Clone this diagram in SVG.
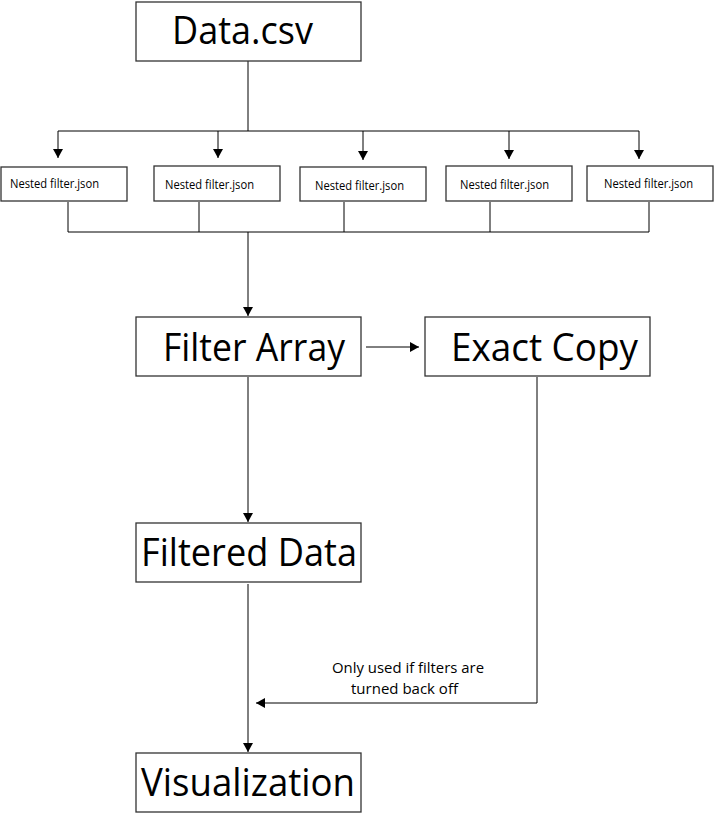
<svg xmlns="http://www.w3.org/2000/svg" width="714" height="814" viewBox="0 0 714 814">
<style>
.box{fill:#fff;stroke:#333;stroke-width:1.3}
.big{font-family:"Open Sans","Noto Sans",sans-serif;font-size:39px;fill:#000}
.small{font-family:"Open Sans","Noto Sans",sans-serif;font-size:12px;fill:#000}
.note{font-family:"Open Sans","Noto Sans",sans-serif;font-size:14px;fill:#000}
.ln{fill:none;stroke:#000;stroke-width:1}
</style>
<defs>
<marker id="ah" markerWidth="10" markerHeight="10" refX="9" refY="5" orient="auto" markerUnits="userSpaceOnUse">
<path d="M0,0 L9,5 L0,10 Z" fill="#000"/>
</marker>
</defs>
<rect width="714" height="814" fill="#fff"/>
<g id="connectors">
<path class="ln" d="M248,61 V131 M58,131 H639"/>
<path class="ln" d="M58,131 V158" marker-end="url(#ah)"/>
<path class="ln" d="M218,131 V158" marker-end="url(#ah)"/>
<path class="ln" d="M363,131 V160" marker-end="url(#ah)"/>
<path class="ln" d="M509,131 V159" marker-end="url(#ah)"/>
<path class="ln" d="M639,131 V159" marker-end="url(#ah)"/>
<path class="ln" d="M68,202 V232 M199,202 V232 M344,202 V232 M490,202 V232 M649,202 V232 M68,232 H649"/>
<path class="ln" d="M248,232 V316" marker-end="url(#ah)"/>
<path class="ln" d="M366,347 H419" stroke="#555" marker-end="url(#ah)"/>
<path class="ln" d="M248,377 V522" marker-end="url(#ah)"/>
<path class="ln" d="M248,584 V752" marker-end="url(#ah)"/>
<path class="ln" d="M537,377 V703 H256" marker-end="url(#ah)"/>
</g>
<g id="data-csv"><rect class="box" x="136" y="2" width="225" height="59"/><text class="big" x="172" y="44" textLength="141" lengthAdjust="spacingAndGlyphs">Data.csv</text></g>
<g id="nested-1"><rect class="box" x="1" y="167" width="126" height="34"/><text class="small" x="10" y="188" textLength="89" lengthAdjust="spacingAndGlyphs">Nested filter.json</text></g>
<g id="nested-2"><rect class="box" x="154" y="166" width="126" height="35"/><text class="small" x="165" y="189" textLength="89" lengthAdjust="spacingAndGlyphs">Nested filter.json</text></g>
<g id="nested-3"><rect class="box" x="300" y="167" width="126" height="34"/><text class="small" x="315" y="190" textLength="89" lengthAdjust="spacingAndGlyphs">Nested filter.json</text></g>
<g id="nested-4"><rect class="box" x="446" y="166" width="126" height="35"/><text class="small" x="460" y="189" textLength="89" lengthAdjust="spacingAndGlyphs">Nested filter.json</text></g>
<g id="nested-5"><rect class="box" x="587" y="166" width="126" height="35"/><text class="small" x="604" y="188" textLength="89" lengthAdjust="spacingAndGlyphs">Nested filter.json</text></g>
<g id="filter-array"><rect class="box" x="136" y="317" width="225" height="59"/><text class="big" x="163" y="361" textLength="182" lengthAdjust="spacingAndGlyphs">Filter Array</text></g>
<g id="exact-copy"><rect class="box" x="425" y="317" width="225" height="59"/><text class="big" x="451" y="361" textLength="187" lengthAdjust="spacingAndGlyphs">Exact Copy</text></g>
<g id="filtered-data"><rect class="box" x="136" y="523" width="225" height="59"/><text class="big" x="141" y="566" textLength="216" lengthAdjust="spacingAndGlyphs">Filtered Data</text></g>
<g id="visualization"><rect class="box" x="136" y="753" width="225" height="59"/><text class="big" x="141" y="796" textLength="214" lengthAdjust="spacingAndGlyphs">Visualization</text></g>
<g id="note"><text class="note" x="332" y="673" textLength="152" lengthAdjust="spacingAndGlyphs">Only used if filters are</text><text class="note" x="351" y="694" textLength="107" lengthAdjust="spacingAndGlyphs">turned back off</text></g>
</svg>
